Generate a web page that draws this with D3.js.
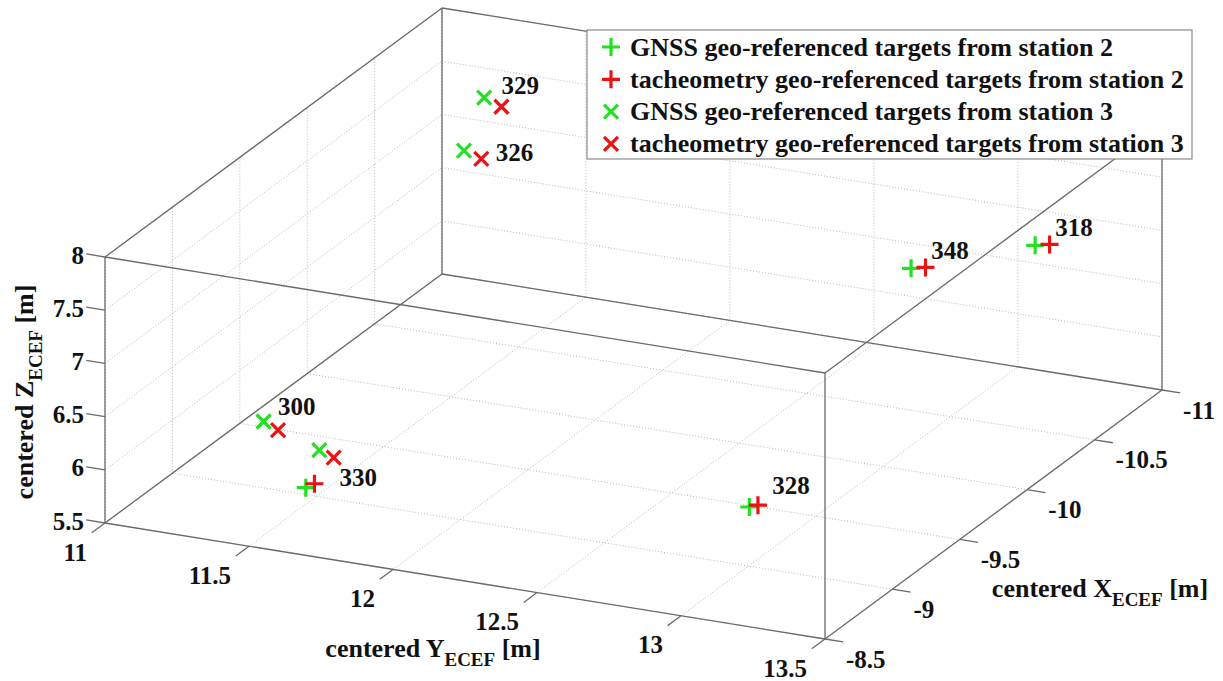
<!DOCTYPE html>
<html>
<head>
<meta charset="utf-8">
<script src="https://cdn.jsdelivr.net/npm/d3@7"></script>
<style>
  body { margin: 0; background: #fff; }
  text { font-family: "Liberation Serif", "Times New Roman", serif; font-weight: bold; fill: #111; }
</style>
</head>
<body>
<script>
const WIDTH = 1223;
const HEIGHT = 681;

// axis ticks
const yTicks = [11, 11.5, 12, 12.5, 13, 13.5];
const xTicks = [-8.5, -9, -9.5, -10, -10.5, -11];
const zTicks = [5.5, 6, 6.5, 7, 7.5, 8];

// targets (centered ECEF, metres)
const gnssSt2 = [
  { id: "330", x: -8.90, y: 11.51, z: 5.68 },
  { id: "328", x: -8.90, y: 13.05, z: 6.17 },
  { id: "348", x: -10.10, y: 13.05, z: 7.29 },
  { id: "318", x: -10.70, y: 13.20, z: 7.01 }
];
const tacheoSt2 = [
  { id: "330", x: -8.90, y: 11.54, z: 5.73 },
  { id: "328", x: -8.90, y: 13.08, z: 6.20 },
  { id: "348", x: -10.10, y: 13.10, z: 7.32 },
  { id: "318", x: -10.70, y: 13.25, z: 7.04 }
];
const gnssSt3 = [
  { id: "329", x: -10.80, y: 11.24, z: 7.45 },
  { id: "326", x: -10.80, y: 11.17, z: 6.92 },
  { id: "300", x: -9.10, y: 11.27, z: 6.01 },
  { id: "330", x: -9.00, y: 11.51, z: 5.94 }
];
const tacheoSt3 = [
  { id: "329", x: -10.80, y: 11.30, z: 7.39 },
  { id: "326", x: -10.80, y: 11.23, z: 6.87 },
  { id: "300", x: -9.10, y: 11.32, z: 5.95 },
  { id: "330", x: -9.00, y: 11.56, z: 5.89 }
];
const targetLabels = [
  { text: "329", x: -10.80, y: 11.30, z: 7.59 },
  { text: "326", x: -10.80, y: 11.28, z: 6.95 },
  { text: "300", x: -9.10, y: 11.32, z: 6.17 },
  { text: "330", x: -9.00, y: 11.58, z: 5.71 },
  { text: "328", x: -8.90, y: 13.13, z: 6.41 },
  { text: "348", x: -10.10, y: 13.12, z: 7.49 },
  { text: "318", x: -10.70, y: 13.27, z: 7.21 }
];

const seriesNames = [
  "GNSS geo-referenced targets from station 2",
  "tacheometry geo-referenced targets from station 2",
  "GNSS geo-referenced targets from station 3",
  "tacheometry geo-referenced targets from station 3"
];

const GREEN = "#22e022";
const RED = "#ee1111";
const series = [
  { data: gnssSt2, color: GREEN, symbol: "plus" },
  { data: tacheoSt2, color: RED, symbol: "plus" },
  { data: gnssSt3, color: GREEN, symbol: "cross" },
  { data: tacheoSt3, color: RED, symbol: "cross" }
];

// oblique projection of the axes box
const ORIGIN = [105, 523];
const EY = [720, 116];
const EX = [337, -249];
const EZ = [0, -266];

const yScale = d3.scaleLinear().domain([11, 13.5]).range([0, 1]);
const xScale = d3.scaleLinear().domain([-8.5, -11]).range([0, 1]);
const zScale = d3.scaleLinear().domain([5.5, 8]).range([0, 1]);

const project = (x, y, z) => {
  const u = yScale(y), v = xScale(x), w = zScale(z);
  return [ORIGIN[0] + EY[0] * u + EX[0] * v + EZ[0] * w,
          ORIGIN[1] + EY[1] * u + EX[1] * v + EZ[1] * w];
};

const svg = d3.select("body")
              .append("svg")
              .attr("width", WIDTH)
              .attr("height", HEIGHT);

const line = d3.line();

const drawGrid = () => {
  const g = svg.append("g")
               .attr("fill", "none")
               .attr("stroke", "#b8b8b8")
               .attr("stroke-width", 1)
               .attr("stroke-dasharray", "1,2");
  const segs = [];
  const [x0, x1] = xScale.domain();
  const [y0, y1] = yScale.domain();
  const [z0, z1] = zScale.domain();
  // floor
  yTicks.forEach(y => segs.push([project(x0, y, z0), project(x1, y, z0)]));
  xTicks.forEach(x => segs.push([project(x, y0, z0), project(x, y1, z0)]));
  // back wall
  yTicks.forEach(y => segs.push([project(x1, y, z0), project(x1, y, z1)]));
  zTicks.forEach(z => segs.push([project(x1, y0, z), project(x1, y1, z)]));
  // left wall
  xTicks.forEach(x => segs.push([project(x, y0, z0), project(x, y0, z1)]));
  zTicks.forEach(z => segs.push([project(x0, y0, z), project(x1, y0, z)]));
  g.selectAll("path").data(segs).join("path").attr("d", line);
};

const drawBox = () => {
  const [x0, x1] = xScale.domain();
  const [y0, y1] = yScale.domain();
  const [z0, z1] = zScale.domain();
  const edges = [];
  [z0, z1].forEach(z => {
    edges.push([project(x0, y0, z), project(x0, y1, z)]);
    edges.push([project(x1, y0, z), project(x1, y1, z)]);
    edges.push([project(x0, y0, z), project(x1, y0, z)]);
    edges.push([project(x0, y1, z), project(x1, y1, z)]);
  });
  [[x0, y0], [x0, y1], [x1, y0], [x1, y1]].forEach(([x, y]) =>
    edges.push([project(x, y, z0), project(x, y, z1)]));
  svg.append("g")
     .attr("fill", "none")
     .attr("stroke", "#6a6a6a")
     .attr("stroke-width", 1.3)
     .selectAll("path").data(edges).join("path").attr("d", line);
};

const unit = v => { const n = Math.hypot(v[0], v[1]); return [v[0] / n, v[1] / n]; };

const drawAxes = () => {
  const g = svg.append("g");
  const tickStroke = "#6a6a6a";
  const [x0, x1] = xScale.domain();
  const [y0, y1] = yScale.domain();
  const [z0] = zScale.domain();

  // Y axis (front bottom edge)
  const dY = unit(EX).map(d => -d * 16.5);
  yTicks.forEach(t => {
    const p = project(x0, t, z0);
    g.append("path").attr("stroke", tickStroke).attr("stroke-width", 1.3)
     .attr("d", line([p, [p[0] + dY[0], p[1] + dY[1]]]));
    g.append("text").attr("x", p[0] - 18).attr("y", p[1] + 29)
     .attr("text-anchor", "end").attr("dominant-baseline", "central")
     .attr("font-size", 25).text(t);
  });

  // X axis (right bottom edge)
  const dX = unit(EY).map(d => d * 18.5);
  xTicks.forEach(t => {
    const p = project(t, y1, z0);
    g.append("path").attr("stroke", tickStroke).attr("stroke-width", 1.3)
     .attr("d", line([p, [p[0] + dX[0], p[1] + dX[1]]]));
    g.append("text").attr("x", p[0] + 21).attr("y", p[1] + 20)
     .attr("text-anchor", "start").attr("dominant-baseline", "central")
     .attr("font-size", 25).text(t);
  });

  // Z axis (front left edge)
  const dZ = unit(EY).map(d => -d * 19);
  zTicks.forEach(t => {
    const p = project(x0, y0, t);
    g.append("path").attr("stroke", tickStroke).attr("stroke-width", 1.3)
     .attr("d", line([p, [p[0] + dZ[0], p[1] + dZ[1]]]));
    g.append("text").attr("x", p[0] - 21).attr("y", p[1] - 2)
     .attr("text-anchor", "end").attr("dominant-baseline", "central")
     .attr("font-size", 25).text(t);
  });

  const title = (sel, letter) => {
    sel.append("tspan").text("centered " + letter);
    sel.append("tspan").attr("font-size", 19).attr("dy", 9).text("ECEF");
    sel.append("tspan").attr("dy", -9).text(" [m]");
  };

  g.append("text").attr("x", 433).attr("y", 657).attr("text-anchor", "middle")
   .attr("font-size", 26).call(title, "Y");
  g.append("text").attr("x", 1100).attr("y", 597).attr("text-anchor", "middle")
   .attr("font-size", 26).call(title, "X");
  g.append("text").attr("transform", "translate(33,392) rotate(-90)")
   .attr("text-anchor", "middle").attr("font-size", 26).call(title, "Z");
};

const symbolPath = s => s === "plus" ? "M-9,0H9M0,-9V9" : "M-7,-7L7,7M-7,7L7,-7";

const drawPoints = () => {
  series.forEach(s => {
    svg.append("g").selectAll("path").data(s.data).join("path")
       .attr("transform", d => "translate(" + project(d.x, d.y, d.z) + ")")
       .attr("d", symbolPath(s.symbol))
       .attr("fill", "none")
       .attr("stroke", s.color)
       .attr("stroke-width", 3.2);
  });
  svg.append("g").selectAll("text").data(targetLabels).join("text")
     .attr("x", d => project(d.x, d.y, d.z)[0])
     .attr("y", d => project(d.x, d.y, d.z)[1])
     .attr("dominant-baseline", "central")
     .attr("font-size", 25)
     .text(d => d.text);
};

const drawLegend = () => {
  const g = svg.append("g").attr("transform", "translate(587,30)");
  g.append("rect").attr("width", 605).attr("height", 129)
   .attr("fill", "#fff").attr("stroke", "#8a8a8a").attr("stroke-width", 1.2);
  const rows = g.selectAll("g.row").data(series).join("g")
                .attr("class", "row")
                .attr("transform", (d, i) => "translate(0," + (17 + i * 32.3) + ")");
  rows.append("path").attr("transform", "translate(24,0)")
      .attr("d", d => symbolPath(d.symbol))
      .attr("fill", "none").attr("stroke", d => d.color).attr("stroke-width", 3.2);
  rows.append("text").attr("x", 43).attr("dominant-baseline", "central")
      .attr("font-size", 26).text((d, i) => seriesNames[i]);
};

drawGrid();
drawBox();
drawAxes();
drawPoints();
drawLegend();
</script>
</body>
</html>
